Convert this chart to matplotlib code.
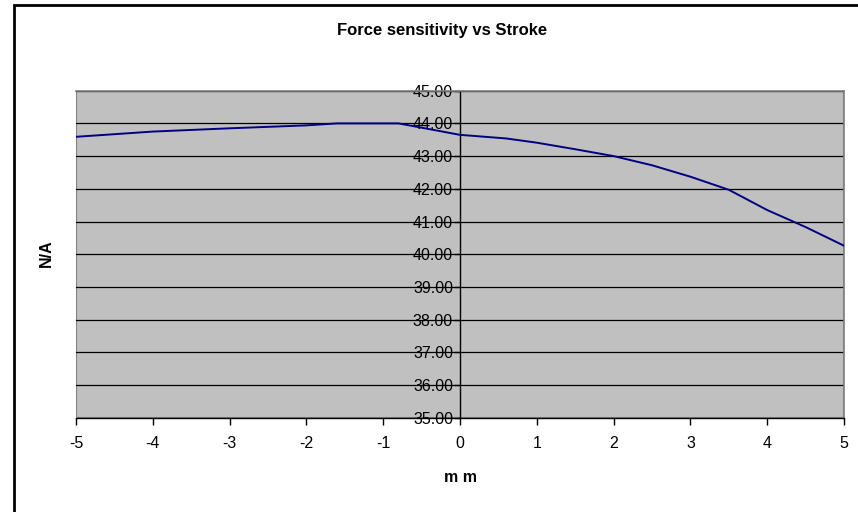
import matplotlib.pyplot as plt
from matplotlib.patches import Rectangle

plt.rcParams['font.family'] = ['Liberation Sans', 'DejaVu Sans']

# stroke [mm] and force sensitivity [N/A]
stroke = [-5, -4, -3, -2, -1.6, -0.8, 0, 0.6, 1, 1.5, 2, 2.5, 3, 3.5, 4, 4.5, 5]
sens = [43.59, 43.75, 43.85, 43.94, 44.0, 44.0, 43.65, 43.54, 43.41, 43.21,
        43.0, 42.72, 42.37, 41.97, 41.35, 40.83, 40.26]
yticks = [35, 36, 37, 38, 39, 40, 41, 42, 43, 44, 45]
xticks = [-5, -4, -3, -2, -1, 0, 1, 2, 3, 4, 5]

W, H = 858, 512
fig = plt.figure(figsize=(W / 100, H / 100), dpi=100)
# plot area in pixels: x 76..844, y 90.7..417.7
ax = fig.add_axes([76 / W, 1 - 417.7 / H, (844 - 76) / W, (417.7 - 90.7) / H])
ax.set_facecolor('#C0C0C0')

# outer chart frame (only left/top edges visible)
fig.patches.append(Rectangle((13.5 / W, -0.1), 1.2, 1 - 4.5 / H + 0.1,
                             transform=fig.transFigure, fill=False,
                             edgecolor='black', linewidth=2))

ax.set_xlim(-5, 5)
ax.set_ylim(35, 45)

for y in yticks[1:]:
    ax.axhline(y, color='black', linewidth=0.9, zorder=1)

ax.plot(stroke, sens, color='#000080', linewidth=1.4, zorder=3)

ax.spines['left'].set_position(('data', 0))
ax.spines['left'].set_color('black')
ax.spines['left'].set_linewidth(1)
ax.spines['bottom'].set_color('black')
ax.spines['bottom'].set_linewidth(1)
ax.spines['top'].set_color('#808080')
ax.spines['right'].set_color('#808080')
ax.spines['top'].set_linewidth(1.2)
ax.spines['right'].set_linewidth(1.2)
# gray left edge of plot area
ax.add_patch(Rectangle((0, 0), 1, 1, transform=ax.transAxes, fill=False,
                       edgecolor='#808080', linewidth=1.5, zorder=0.5))

ax.set_yticks(yticks)
ax.set_yticklabels(['%.2f' % v for v in yticks], fontsize=11.5)
ax.set_xticks(xticks)
ax.set_xticklabels([str(v) for v in xticks], fontsize=11.5)
ax.tick_params(axis='y', direction='out', length=4, pad=1, width=1)
ax.tick_params(axis='x', direction='out', length=5, pad=8, width=1)

fig.text(442 / W, 1 - 31 / H, 'Force sensitivity vs Stroke', ha='center',
         va='center', fontsize=12, fontweight='bold')
fig.text(460 / W, 1 - 478 / H, 'm m', ha='center', va='center',
         fontsize=11.5, fontweight='bold')
fig.text(46 / W, 1 - 253 / H, 'N/A', ha='center', va='center',
         fontsize=11.5, fontweight='bold', rotation=90)

fig.savefig('out.png', dpi=100)
